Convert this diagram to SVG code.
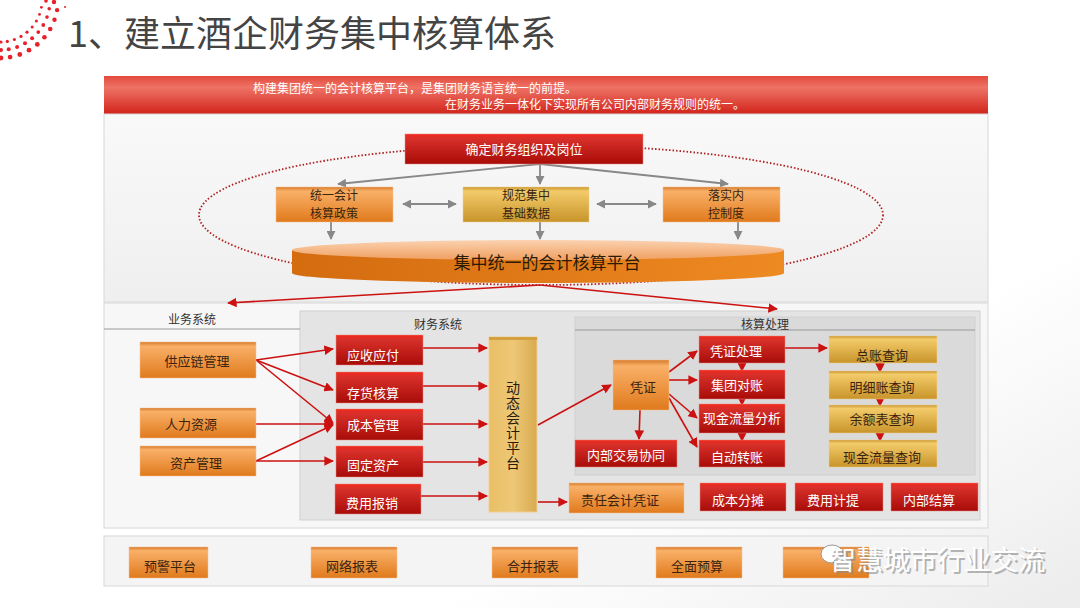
<svg xmlns="http://www.w3.org/2000/svg" width="1080" height="608" viewBox="0 0 1080 608">
<defs>
<linearGradient id="gRed" x1="0" y1="0" x2="0" y2="1"><stop offset="0" stop-color="#f2281c"/><stop offset="0.15" stop-color="#d8302a"/><stop offset="1" stop-color="#a80c08"/></linearGradient>
<linearGradient id="gOr" x1="0" y1="0" x2="0" y2="1"><stop offset="0" stop-color="#d67a2a"/><stop offset="0.12" stop-color="#f9b068"/><stop offset="1" stop-color="#e07a1c"/></linearGradient>
<linearGradient id="gGold" x1="0" y1="0" x2="0" y2="1"><stop offset="0" stop-color="#c9962e"/><stop offset="0.12" stop-color="#f3cb6a"/><stop offset="1" stop-color="#c8942a"/></linearGradient>
<linearGradient id="gGoldV" x1="0" y1="0" x2="1" y2="0"><stop offset="0" stop-color="#e9be66"/><stop offset="0.5" stop-color="#eec877"/><stop offset="1" stop-color="#d8aa50"/></linearGradient>
<linearGradient id="gBanner" x1="0" y1="0" x2="0" y2="1"><stop offset="0" stop-color="#e24a3c"/><stop offset="0.3" stop-color="#ee7366"/><stop offset="1" stop-color="#d2241a"/></linearGradient>
<linearGradient id="gPanel" x1="0" y1="0" x2="0" y2="1"><stop offset="0" stop-color="#f9f9f9"/><stop offset="1" stop-color="#efefef"/></linearGradient>
<linearGradient id="gDisc" x1="0" y1="0" x2="1" y2="0"><stop offset="0" stop-color="#d46c10"/><stop offset="0.5" stop-color="#e07a18"/><stop offset="1" stop-color="#ee8a22"/></linearGradient>
<linearGradient id="gDiscTop" x1="0" y1="0" x2="0" y2="1"><stop offset="0" stop-color="#fbd2b0"/><stop offset="1" stop-color="#f0a060"/></linearGradient>
<linearGradient id="gBg" x1="0" y1="0" x2="1" y2="1"><stop offset="0" stop-color="#ffffff"/><stop offset="0.7" stop-color="#ffffff"/><stop offset="1" stop-color="#ececec"/></linearGradient>
<marker id="aR" viewBox="0 0 10 10" refX="9" refY="5" markerWidth="6" markerHeight="6" orient="auto"><path d="M0,0 L10,5 L0,10 Z" fill="#cc1111"/></marker>
<marker id="aG" viewBox="0 0 10 10" refX="9" refY="5" markerWidth="5" markerHeight="5" orient="auto-start-reverse"><path d="M0,0 L10,5 L0,10 Z" fill="#888"/></marker>
</defs>
<style>
.t{font-family:"Noto Sans CJK SC","Liberation Sans",sans-serif;}
.w{fill:#fff;font-size:13px;text-anchor:middle;}
.d{fill:#3a2410;font-size:13px;text-anchor:middle;}
.d2{fill:#3a2410;font-size:12px;text-anchor:middle;}
.lbl{fill:#333;font-size:12px;text-anchor:middle;}
.rl{stroke:#cc1111;stroke-width:1.6;fill:none;marker-end:url(#aR);}
.gl{stroke:#888;stroke-width:1.8;fill:none;marker-end:url(#aG);}
.red{fill:url(#gRed);stroke:#e88a80;stroke-width:0.5;}
.or{fill:url(#gOr);stroke:#f5c090;stroke-width:0.5;}
.gold{fill:url(#gGold);stroke:#f0d090;stroke-width:0.5;}
</style>
<rect width="1080" height="608" fill="url(#gBg)"/>
<g id="deco" fill="#e8202a">
<circle cx="41.4" cy="7.3" r="1.4"/><circle cx="39.5" cy="14.4" r="1.4"/><circle cx="36.4" cy="21" r="1.5"/><circle cx="32.2" cy="27" r="1.5"/><circle cx="27" cy="32.2" r="1.6"/><circle cx="21" cy="36.4" r="1.6"/><circle cx="14.4" cy="39.5" r="1.6"/><circle cx="7.3" cy="41.4" r="1.6"/><circle cx="1" cy="42" r="1.6"/>
<circle cx="49.2" cy="8.7" r="1.8"/><circle cx="47" cy="17.1" r="1.8"/><circle cx="43.3" cy="25" r="1.9"/><circle cx="38.3" cy="32.1" r="1.9"/><circle cx="32.1" cy="38.3" r="2"/><circle cx="25" cy="43.3" r="2"/><circle cx="17.1" cy="47" r="2"/><circle cx="8.7" cy="49.2" r="2"/><circle cx="1" cy="50" r="2"/>
<circle cx="57.1" cy="10.1" r="2.2"/><circle cx="54.5" cy="19.8" r="2.2"/><circle cx="50.2" cy="29" r="2.3"/><circle cx="44.4" cy="37.3" r="2.3"/><circle cx="37.3" cy="44.4" r="2.4"/><circle cx="29" cy="50.2" r="2.4"/><circle cx="19.8" cy="54.5" r="2.4"/><circle cx="10.1" cy="57.1" r="2.4"/><circle cx="1" cy="58" r="2.4"/>
<circle cx="54" cy="2" r="2.2"/><circle cx="46" cy="1" r="1.8"/><circle cx="65" cy="7" r="1"/>
</g>
<text class="t" x="68" y="47" font-size="36" fill="#444">1、建立酒企财务集中核算体系</text>
<g id="banner">
<rect x="104" y="76" width="884" height="38" fill="url(#gBanner)"/>
<text class="t" x="253" y="93" font-size="12" fill="#fff">构建集团统一的会计核算平台，是集团财务语言统一的前提。</text>
<text class="t" x="445" y="109" font-size="12" fill="#fff">在财务业务一体化下实现所有公司内部财务规则的统一。</text>
</g>
<g id="panels">
<rect x="104" y="114" width="884" height="188" fill="url(#gPanel)" stroke="#d8d8d8"/>
<rect x="104" y="303" width="884" height="225" fill="#f7f7f7" stroke="#d8d8d8"/>
<rect x="300" y="311" width="680" height="209" fill="#e4e4e4" stroke="#d0d0d0"/>
<rect x="575" y="317" width="400" height="158" fill="#dadada" stroke="#cfcfcf"/>
<line x1="104" y1="329" x2="300" y2="329" stroke="#999" stroke-width="1"/>
<line x1="575" y1="330" x2="975" y2="330" stroke="#999" stroke-width="1"/>
<text class="t lbl" x="192" y="324">业务系统</text>
<text class="t lbl" x="438" y="329">财务系统</text>
<text class="t lbl" x="765" y="329">核算处理</text>
<rect x="104" y="536" width="884" height="50" fill="#f4f4f4" stroke="#d8d8d8"/>
</g>
<ellipse id="scope" cx="541" cy="215" rx="342" ry="70" fill="none" stroke="#b02020" stroke-width="1.8" stroke-dasharray="1.5 2"/>
<g id="connectors">
<line class="gl" x1="540" y1="164" x2="338" y2="184"/>
<line class="gl" x1="540" y1="164" x2="540" y2="184"/>
<line class="gl" x1="540" y1="164" x2="728" y2="184"/>
<line class="gl" x1="403" y1="204" x2="456" y2="204" marker-start="url(#aG)"/>
<line class="gl" x1="597" y1="204" x2="656" y2="204" marker-start="url(#aG)"/>
<line class="gl" x1="331" y1="222" x2="331" y2="239"/>
<line class="gl" x1="540" y1="222" x2="540" y2="239"/>
<line class="gl" x1="738" y1="222" x2="738" y2="239"/>
<line class="rl" x1="540" y1="285" x2="228" y2="303"/>
<line class="rl" x1="540" y1="285" x2="777" y2="309"/>
<line class="rl" x1="256" y1="360" x2="333" y2="349"/>
<line class="rl" x1="256" y1="360" x2="333" y2="390"/>
<line class="rl" x1="256" y1="360" x2="333" y2="423"/>
<line class="rl" x1="255" y1="424" x2="333" y2="424"/>
<line class="rl" x1="256" y1="461" x2="333" y2="425"/>
<line class="rl" x1="256" y1="461" x2="333" y2="461"/>
<line class="rl" x1="423" y1="348" x2="487" y2="348"/>
<line class="rl" x1="423" y1="386" x2="487" y2="386"/>
<line class="rl" x1="423" y1="424" x2="487" y2="424"/>
<line class="rl" x1="423" y1="462" x2="487" y2="462"/>
<line class="rl" x1="421" y1="496" x2="487" y2="496"/>
<line class="rl" x1="538" y1="425" x2="611" y2="385"/>
<line class="rl" x1="538" y1="502" x2="567" y2="502"/>
<line class="rl" x1="640" y1="410" x2="639" y2="439"/>
<line class="rl" x1="669" y1="372" x2="697" y2="351"/>
<line class="rl" x1="669" y1="380" x2="697" y2="380"/>
<line class="rl" x1="669" y1="394" x2="697" y2="418"/>
<line class="rl" x1="669" y1="398" x2="697" y2="447"/>
<line class="rl" x1="742" y1="363" x2="742" y2="371"/>
<line class="rl" x1="742" y1="397" x2="742" y2="405"/>
<line class="rl" x1="742" y1="431" x2="742" y2="441"/>
<line class="rl" x1="785" y1="348" x2="827" y2="348"/>
<line class="rl" x1="880" y1="361" x2="880" y2="372"/>
<line class="rl" x1="880" y1="394" x2="880" y2="406"/>
<line class="rl" x1="880" y1="428" x2="880" y2="441"/>
</g>
<g id="n-org"><rect class="red" x="405" y="134" width="238" height="30"/><text class="t w" x="524" y="154">确定财务组织及岗位</text></g>
<g id="n-policy"><rect class="or" x="276" y="187" width="117" height="35"/><text class="t d2" x="334" y="200">统一会计</text><text class="t d2" x="334" y="217.5">核算政策</text></g>
<g id="n-data"><rect class="gold" x="463" y="187" width="126" height="35"/><text class="t d2" x="526" y="200">规范集中</text><text class="t d2" x="526" y="217.5">基础数据</text></g>
<g id="n-control"><rect class="or" x="663" y="187" width="117" height="35"/><text class="t d2" x="726" y="200">落实内</text><text class="t d2" x="726" y="217.5">控制度</text></g>
<g id="n-platform">
<path d="M292,250 V273 A246,10 0 0 0 784,273 V250 Z" fill="url(#gDisc)"/>
<ellipse cx="538" cy="250" rx="246" ry="10" fill="url(#gDiscTop)"/>
<text class="t" x="547" y="269" font-size="17" fill="#2a1a08" text-anchor="middle">集中统一的会计核算平台</text>
</g>
<g id="n-supply"><rect class="or" x="140" y="342" width="116" height="36"/><text class="t d" x="197" y="366">供应链管理</text></g>
<g id="n-hr"><rect class="or" x="140" y="408" width="116" height="30"/><text class="t d" x="191" y="429">人力资源</text></g>
<g id="n-asset"><rect class="or" x="140" y="446" width="116" height="30"/><text class="t d" x="196" y="468">资产管理</text></g>
<g id="n-ar"><rect class="red" x="336" y="335" width="87" height="30"/><text class="t w" x="373" y="360">应收应付</text></g>
<g id="n-inv"><rect class="red" x="336" y="372" width="87" height="31"/><text class="t w" x="373" y="398">存货核算</text></g>
<g id="n-cost"><rect class="red" x="336" y="409" width="87" height="31"/><text class="t w" x="373" y="430">成本管理</text></g>
<g id="n-fixed"><rect class="red" x="336" y="446" width="87" height="31"/><text class="t w" x="373" y="470">固定资产</text></g>
<g id="n-exp"><rect class="red" x="335" y="484" width="86" height="30"/><text class="t w" x="372" y="508">费用报销</text></g>
<g id="n-dyn"><rect x="489" y="337" width="48" height="175" fill="url(#gGoldV)" stroke="#f0d090"/><rect x="489" y="337" width="48" height="3" fill="#d4a040"/>
<text class="t" x="513" y="381" font-size="14" fill="#2a1a08" writing-mode="tb" letter-spacing="1">动态会计平台</text>
</g>
<g id="n-voucher"><rect class="or" x="613" y="360" width="56" height="50"/><text class="t d" x="643" y="392">凭证</text></g>
<g id="n-internal"><rect class="red" x="575" y="440" width="102" height="27"/><text class="t w" x="626" y="460">内部交易协同</text></g>
<g id="n-vproc"><rect class="red" x="699" y="336" width="86" height="27"/><text class="t w" x="736" y="356">凭证处理</text></g>
<g id="n-recon"><rect class="red" x="699" y="370" width="86" height="29"/><text class="t w" x="737" y="390">集团对账</text></g>
<g id="n-cash"><rect class="red" x="699" y="404" width="86" height="29"/><text class="t w" x="742" y="423">现金流量分析</text></g>
<g id="n-auto"><rect class="red" x="699" y="440" width="86" height="27"/><text class="t w" x="737" y="462">自动转账</text></g>
<g id="n-gl"><rect class="gold" x="829" y="336" width="108" height="27"/><text class="t d" x="882" y="360">总账查询</text></g>
<g id="n-detail"><rect class="gold" x="829" y="371" width="108" height="28"/><text class="t d" x="882" y="392">明细账查询</text></g>
<g id="n-bal"><rect class="gold" x="829" y="405" width="108" height="28"/><text class="t d" x="882" y="424">余额表查询</text></g>
<g id="n-cashq"><rect class="gold" x="829" y="440" width="108" height="27"/><text class="t d" x="882" y="462">现金流量查询</text></g>
<g id="n-resp"><rect class="or" x="569" y="483" width="115" height="30"/><text class="t d" x="620" y="505">责任会计凭证</text></g>
<g id="n-alloc"><rect class="red" x="700" y="483" width="86" height="28"/><text class="t w" x="738" y="505">成本分摊</text></g>
<g id="n-accr"><rect class="red" x="795" y="483" width="88" height="28"/><text class="t w" x="833" y="505">费用计提</text></g>
<g id="n-settle"><rect class="red" x="891" y="483" width="87" height="28"/><text class="t w" x="929" y="505">内部结算</text></g>
<g id="n-warn"><rect class="or" x="129" y="547" width="79" height="31"/><text class="t d" x="170" y="571" font-size="12">预警平台</text></g>
<g id="n-net"><rect class="or" x="311" y="547" width="86" height="31"/><text class="t d" x="352" y="571" font-size="12">网络报表</text></g>
<g id="n-cons"><rect class="or" x="492" y="547" width="86" height="31"/><text class="t d" x="533" y="571" font-size="12">合并报表</text></g>
<g id="n-budget"><rect class="or" x="656" y="547" width="86" height="31"/><text class="t d" x="697" y="571" font-size="12">全面预算</text></g>
<g id="n-fifth"><rect class="or" x="783" y="547" width="86" height="31"/></g>
<g id="watermark">
<ellipse cx="832" cy="554" rx="11" ry="9" fill="#fff" stroke="#999" stroke-width="1"/>
<ellipse cx="843" cy="563" rx="9" ry="7.5" fill="#fff" stroke="#999" stroke-width="1"/>
<text class="t" x="831" y="572" font-size="27" fill="#888" opacity="0.6">智慧城市行业交流</text>
<text class="t" x="829" y="570" font-size="27" fill="#fff">智慧城市行业交流</text>
</g>
</svg>
